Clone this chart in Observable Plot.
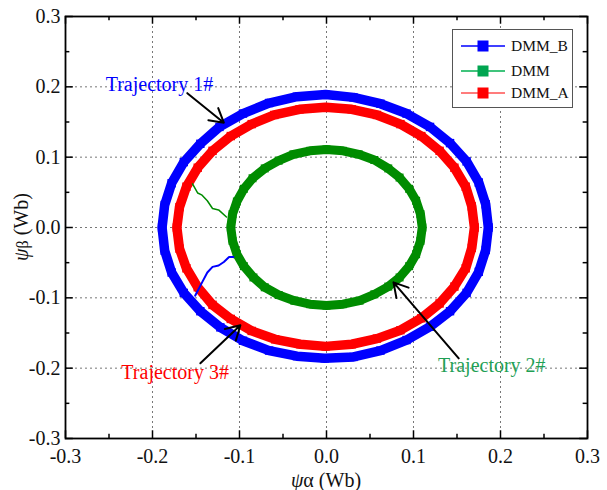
<!DOCTYPE html>
<html><head><meta charset="utf-8">
<script src="https://cdn.jsdelivr.net/npm/d3@7"></script>
<script src="https://cdn.jsdelivr.net/npm/@observablehq/plot@0.6"></script>
<style>
body{margin:0;background:#fff}
#wrap{position:relative;width:607px;height:490px;font-family:"Liberation Serif",Tinos,"Times New Roman",Times,"DejaVu Serif",serif}
#wrap svg, #wrap svg text{font-family:"Liberation Serif",Tinos,"Times New Roman",Times,"DejaVu Serif",serif !important}
#legend{position:absolute;left:452px;top:29px;width:121px;height:79px;border:1px solid #555;background:#fff;box-sizing:border-box}
.lrow{position:absolute;left:0;height:20px;display:flex;align-items:center}
.lrow span{font-size:15.5px;color:#111;margin-left:5px}
</style>
</head><body><div id="wrap"><div id="legend"></div></div>
<script>
// ---- data (Wb) ----
const seriesNames = ["DMM_B", "DMM", "DMM_A"];
const seriesColors = ["#0000ff", "#008c00", "#ff0000"];
const legendLineColors = ["#0000ff", "#00b050", "#ff5050"];
const legendMarkColors = ["#0000ff", "#00a550", "#ff0000"];

const dmmBx = [0.186,0.183,0.175,0.161,0.142,0.119,0.092,0.062,0.031,-0.001,-0.034,-0.066,-0.096,-0.123,-0.145,-0.164,-0.178,-0.186,-0.189,-0.186,-0.178,-0.164,-0.145,-0.122,-0.096,-0.066,-0.034,-0.002,0.031,0.062,0.092,0.119,0.142,0.161,0.175,0.183,0.186];
const dmmBy = [0.000,0.033,0.064,0.094,0.120,0.143,0.162,0.176,0.185,0.189,0.186,0.177,0.162,0.143,0.119,0.093,0.063,0.032,0.000,-0.033,-0.064,-0.093,-0.119,-0.142,-0.161,-0.175,-0.183,-0.186,-0.184,-0.175,-0.160,-0.141,-0.119,-0.093,-0.063,-0.032,0.000];

const dmmAx = [0.170,0.167,0.160,0.147,0.130,0.109,0.085,0.058,0.029,-0.001,-0.031,-0.060,-0.086,-0.110,-0.131,-0.148,-0.161,-0.169,-0.172,-0.169,-0.161,-0.148,-0.131,-0.110,-0.086,-0.059,-0.030,-0.001,0.029,0.058,0.085,0.109,0.130,0.147,0.160,0.167,0.170];
const dmmAy = [0.000,0.030,0.058,0.085,0.109,0.130,0.147,0.160,0.168,0.171,0.168,0.160,0.147,0.130,0.109,0.085,0.058,0.029,0.000,-0.030,-0.058,-0.085,-0.110,-0.130,-0.147,-0.159,-0.166,-0.169,-0.166,-0.158,-0.146,-0.129,-0.108,-0.084,-0.058,-0.029,0.000];

const dmmx = [0.110,0.108,0.103,0.095,0.084,0.071,0.055,0.037,0.019,0.000,-0.019,-0.038,-0.055,-0.071,-0.085,-0.095,-0.103,-0.108,-0.110,-0.108,-0.103,-0.095,-0.084,-0.071,-0.055,-0.037,-0.019,0.000,0.019,0.038,0.055,0.071,0.084,0.095,0.103,0.108,0.110];
const dmmy = [0.000,0.019,0.038,0.055,0.071,0.084,0.096,0.104,0.109,0.111,0.109,0.104,0.095,0.084,0.070,0.055,0.037,0.019,0.000,-0.019,-0.038,-0.055,-0.071,-0.085,-0.096,-0.104,-0.109,-0.111,-0.109,-0.104,-0.095,-0.084,-0.071,-0.055,-0.038,-0.019,0.000];

// start-up transients
const dmmStartX = [-0.154,-0.148,-0.143,-0.137,-0.131,-0.124,-0.115];
const dmmStartY = [0.062,0.049,0.046,0.038,0.027,0.025,0.015];
const dmmBStartX = [-0.151,-0.143,-0.137,-0.131,-0.124,-0.118,-0.112,-0.107];
const dmmBStartY = [-0.097,-0.078,-0.064,-0.056,-0.054,-0.049,-0.042,-0.042];

const majorTicks = [-0.3,-0.2,-0.1,0,0.1,0.2,0.3];
const minorTicks = [-0.25,-0.15,-0.05,0.05,0.15,0.25];
const tickLabels = ["-0.3","-0.2","-0.1","0.0","0.1","0.2","0.3"];

const annLabels = ["Trajectory 1#", "Trajectory 2#", "Trajectory 3#"];
const annColors = ["#0000ff", "#1fa055", "#ff0000"];
const annX = [-0.192, 0.190, -0.174];
const annY = [0.203, -0.197, -0.207];
const arrX1 = [-0.160, 0.152, -0.145];
const arrY1 = [0.191, -0.186, -0.193];
const arrX2 = [-0.118, 0.077, -0.099];
const arrY2 = [0.149, -0.078, -0.139];

// ---- build tables ----
const pts = (xs, ys) => xs.map((x, i) => ({x, y: ys[i]}));
const circB = pts(dmmBx, dmmBy), circA = pts(dmmAx, dmmAy), circG = pts(dmmx, dmmy);
const startG = pts(dmmStartX, dmmStartY), startB = pts(dmmBStartX, dmmBStartY);
const ann = annLabels.map((t, i) => ({t, c: annColors[i], x: annX[i], y: annY[i]}));
const arrows = arrX1.map((x1, i) => ({x1, y1: arrY1[i], x2: arrX2[i], y2: arrY2[i]}));
const fmt = d => tickLabels[majorTicks.findIndex(v => Math.abs(v - d) < 1e-9)];

const FONT = "'Liberation Serif', Tinos, 'Times New Roman', Times, 'DejaVu Serif', serif";
const inner = majorTicks.slice(1, -1);
const lo = -0.3, hi = 0.3;
const ring = (data, color, w) => [
  Plot.line(data, {x: "x", y: "y", stroke: color, strokeWidth: w, strokeLinejoin: "round"}),
  Plot.dot(data, {x: "x", y: "y", symbol: "square", r: w * 0.5, fill: color, stroke: "none"})
];

const plot = Plot.plot({
  width: 607, height: 490,
  marginLeft: 65, marginRight: 20, marginTop: 16, marginBottom: 52,
  x: {domain: [lo, hi]},
  y: {domain: [lo, hi]},
  style: {fontFamily: FONT, fontSize: "20px", color: "#111", background: "#fff"},
  marks: [
    Plot.gridX(inner, {stroke: "#777", strokeOpacity: 1, strokeDasharray: "2,3", strokeWidth: 1}),
    Plot.gridY(inner, {stroke: "#777", strokeOpacity: 1, strokeDasharray: "2,3", strokeWidth: 1}),
    // inward ticks on all four sides
    Plot.ruleX(majorTicks, {x: d => d, y1: lo, y2: lo + 0.011, stroke: "#000", strokeWidth: 1.5}),
    Plot.ruleX(majorTicks, {x: d => d, y1: hi, y2: hi - 0.011, stroke: "#000", strokeWidth: 1.5}),
    Plot.ruleX(minorTicks, {x: d => d, y1: lo, y2: lo + 0.006, stroke: "#000", strokeWidth: 1.5}),
    Plot.ruleX(minorTicks, {x: d => d, y1: hi, y2: hi - 0.006, stroke: "#000", strokeWidth: 1.5}),
    Plot.ruleY(majorTicks, {y: d => d, x1: lo, x2: lo + 0.009, stroke: "#000", strokeWidth: 1.5}),
    Plot.ruleY(majorTicks, {y: d => d, x1: hi, x2: hi - 0.009, stroke: "#000", strokeWidth: 1.5}),
    Plot.ruleY(minorTicks, {y: d => d, x1: lo, x2: lo + 0.005, stroke: "#000", strokeWidth: 1.5}),
    Plot.ruleY(minorTicks, {y: d => d, x1: hi, x2: hi - 0.005, stroke: "#000", strokeWidth: 1.5}),
    Plot.axisX({ticks: majorTicks, tickSize: 0, tickPadding: 10, tickFormat: fmt, label: null, fontSize: 20}),
    Plot.axisY({ticks: majorTicks, tickSize: 0, tickPadding: 5, tickFormat: fmt, label: null, fontSize: 20}),
    ...ring(circB, seriesColors[0], 9.5),
    ...ring(circA, seriesColors[2], 9.5),
    ...ring(circG, seriesColors[1], 9),
    Plot.line(startG, {x: "x", y: "y", stroke: seriesColors[1], strokeWidth: 1.5}),
    Plot.line(startB, {x: "x", y: "y", stroke: seriesColors[0], strokeWidth: 2}),
    Plot.arrow(arrows, {x1: "x1", y1: "y1", x2: "x2", y2: "y2", stroke: "#000", strokeWidth: 2, headLength: 12}),
    Plot.text(ann, {x: "x", y: "y", text: "t", fill: "c", fontSize: 20, lineAnchor: "middle"}),
    Plot.frame({stroke: "#000", strokeWidth: 1.8})
  ]
});
document.getElementById("wrap").prepend(plot);

// axis titles with italic psi
const svg = d3.select(plot);
const xs = plot.scale("x"), ys = plot.scale("y");
const cx = xs.apply(0), cy = ys.apply(0);
const tx = svg.append("text").attr("x", cx).attr("y", 487).attr("text-anchor", "middle")
  .attr("font-size", 20).attr("fill", "#111");
tx.append("tspan").attr("font-style", "italic").text("ψ");
tx.append("tspan").text("α (Wb)");
const ty = svg.append("text").attr("transform", `translate(28,${cy}) rotate(-90)`).attr("text-anchor", "middle")
  .attr("font-size", 20).attr("fill", "#111");
ty.append("tspan").attr("font-style", "italic").text("ψ");
ty.append("tspan").attr("font-size", 16).text("β");
ty.append("tspan").text(" (Wb)");

// legend
const lg = document.getElementById("legend");
const rowTops = [6, 31, 53];
seriesNames.forEach((n, i) => {
  const row = document.createElement("div");
  row.className = "lrow";
  row.style.top = rowTops[i] + "px";
  row.innerHTML = `<svg width="45" height="20" style="margin-left:8px"><line x1="0" x2="44" y1="10" y2="10" stroke="${legendLineColors[i]}" stroke-width="1.5"/><rect x="16.5" y="4.5" width="11" height="11" fill="${legendMarkColors[i]}"/></svg><span>${n}</span>`;
  lg.appendChild(row);
});
</script>
</body></html>
